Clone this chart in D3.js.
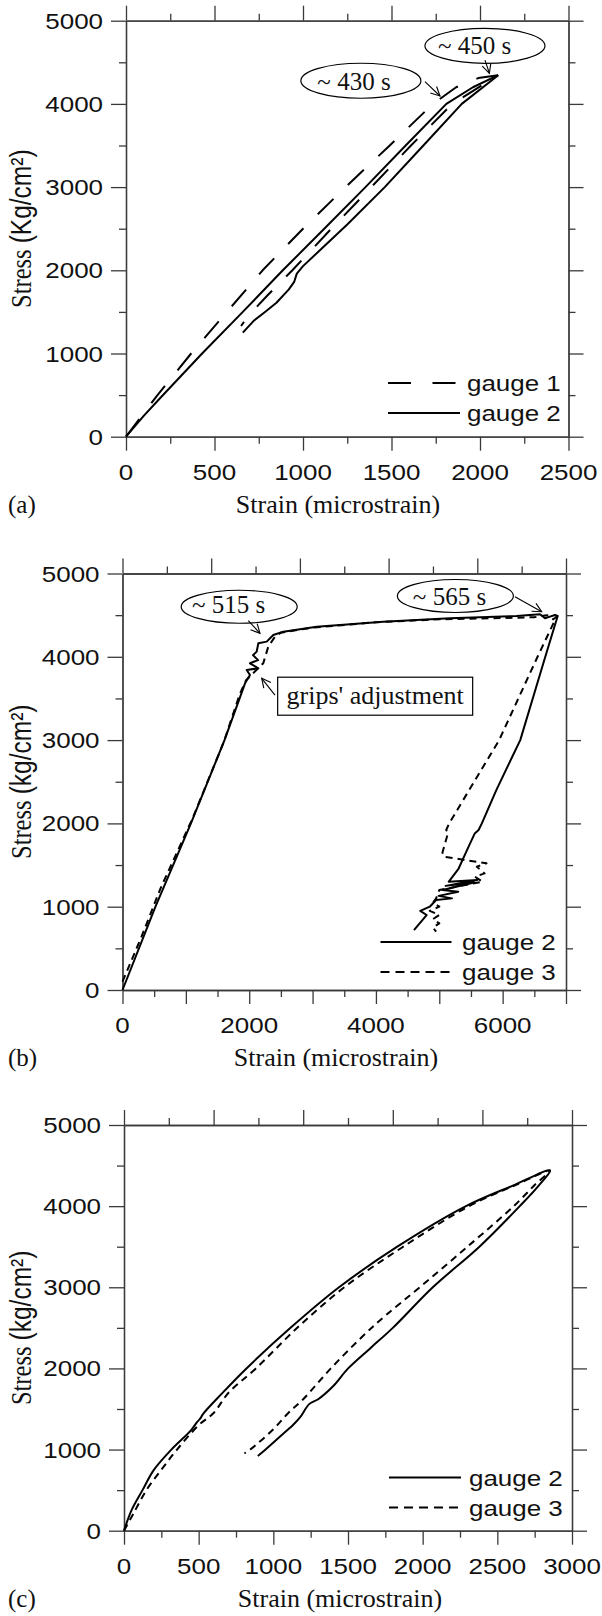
<!DOCTYPE html>
<html><head><meta charset="utf-8">
<script src="https://cdn.jsdelivr.net/npm/d3@7"></script>
<style>body{margin:0;background:#fff}svg{display:block}</style>
</head><body>
<svg id="chart" width="602" height="1616"></svg>
<script>
// ---------------- DATA ----------------
const stressTicks = [0,1000,2000,3000,4000,5000];
const stressMinor = [500,1500,2500,3500,4500];
const topTickIdx = [0,1,2,3,4,5,6,7,8,9,10];

const aXLabels = [0,500,1000,1500,2000,2500];
const aXMinor = [250,750,1250,1750,2250];
const bXLabels = [0,2000,4000,6000];
const bXMajor = [0,1000,2000,3000,4000,5000,6000,7000];
const bXMinor = [500,1500,2500,3500,4500,5500,6500];
const cXLabels = [0,500,1000,1500,2000,2500,3000];
const cXMinor = [250,750,1250,1750,2250,2750];

// panel (a) [strain, stress]
const aGauge1 = [[0,0],[60,170],[178,500],[368,1000],[570,1500],[772,2000],[1000,2500],[1240,3000],[1490,3500],[1734,4000],[1865,4200],[1990,4310],[2103,4345],
  [1843,4000],[1610,3500],[1386,3000],[1160,2500],[940,2000],[800,1700],[690,1450],[650,1330]];
const aGauge2Load = [[0,0],[100,250],[200,480],[430,1000],[660,1500],[886,2000],[1120,2500],[1353,3000],[1580,3500],[1810,4000],[1960,4200],[2103,4345]];
const aGauge2Unload = [[2103,4345],[1897,4000],[1680,3500],[1462,3000],[1250,2550],[1100,2250],[1000,2050],[965,1960],[950,1860],[920,1770],[850,1610],[780,1490],[720,1390],[660,1250]];

// panel (b)
const bGauge2 = [[0,0],[520,1000],[1080,2000],[1610,3000],[1934,3682],[2012,3782],[1960,3842],[2144,3862],[2012,3922],[2140,3960],[2060,4020],[2118,4062],[2144,4162],[2276,4182],[2380,4262],[2538,4302],[3065,4362],[4116,4422],[5169,4462],[6221,4490],[6590,4510],[6668,4462],[6747,4482],[6826,4502],[6869,4490],
  [6673,4000],[6278,3000],[5900,2400],[5672,2000],[5620,1920],[5560,1880],[5450,1700],[5300,1450],[5150,1300],[5600,1320],[5100,1250],[5550,1290],[5050,1200],[5300,1180],[4990,1130],[5200,1100],[4950,1080],[4850,1000],[4700,950],[4800,900],[4600,720]];
const bGauge3 = [[0,100],[300,640],[600,1220],[1100,2050],[1600,2980],[1850,3550],[1950,3720],[2222,3922],[2301,4122],[2407,4242],[2500,4290],[3000,4350],[4000,4415],[5000,4450],[6000,4465],[6500,4475],[6700,4500],[6800,4450],[6850,4480],
  [6551,4000],[5945,3000],[5156,2000],[5109,1921],[5140,1890],[5050,1650],[5070,1600],[5745,1521],[5593,1481],[5715,1400],[5563,1360],[5684,1300],[5000,1200],[4950,1100],[4900,1050],[5000,1000],[4850,950],[5000,900],[4900,850],[5000,800],[4900,750],[4950,700]];

// panel (c)
const cGauge2 = [[0,0],[50,250],[124,500],[200,750],[317,1000],[450,1240],[490,1340],[510,1380],[530,1440],[650,1680],[820,2000],[1115,2500],[1440,3000],[1830,3500],[2290,4000],[2600,4250],[2853,4440],
  [2780,4260],[2650,4000],[2380,3500],[2068,3000],[1800,2500],[1650,2250],[1501,2000],[1400,1780],[1300,1620],[1240,1560],[1180,1400],[1130,1300],[1100,1250],[948,1000],[896,920]];
const cGauge3 = [[0,0],[60,200],[150,500],[250,750],[355,1000],[500,1300],[600,1450],[700,1700],[883,2000],[1160,2500],[1475,3000],[1870,3500],[2310,4000],[2610,4250],[2853,4440],
  [2750,4260],[2610,4000],[2300,3500],[1980,3000],[1750,2650],[1600,2400],[1385,2000],[1200,1620],[1100,1450],[1000,1250],[845,1000],[806,953]];

// annotations [x, y] in data units
const aNotes = [
  {text:"~ 450 s", center:[2028,4698], textAt:[1970,4696], from:[2028,4527], to:[2053,4368]},
  {text:"~ 430 s", center:[1327,4278], textAt:[1288,4267], from:[1689,4267], to:[1774,4095]}
];
const bNotes = [
  {text:"~ 515 s", center:[1842,4601], textAt:[1676,4622], from:[1986,4433], to:[2170,4282]},
  {text:"~ 565 s", center:[5254,4730], textAt:[5161,4721], from:[6195,4721], to:[6616,4541]}
];
const bBox = {text:"grips' adjustment", center:[3988,3527], from:[2407,3541], to:[2197,3742]};

// ---------------- DRAW ----------------
const svg = d3.select('#chart');
const AX = '#3a3a3a';
const SX = 1.18;
const SANS = 'Liberation Sans, Arial, Helvetica, sans-serif';
const SERIF = 'Liberation Serif, Times New Roman, serif';

const defs = svg.append('defs');
defs.append('marker').attr('id','arr').attr('viewBox','-10 -6 12 12').attr('refX',0).attr('refY',0)
  .attr('markerWidth',12).attr('markerHeight',12).attr('markerUnits','userSpaceOnUse').attr('orient','auto')
  .append('path').attr('d','M-9,-4.5 L0,0 L-9,4.5').attr('fill','none').attr('stroke','#000').attr('stroke-width',1.1);

function stext(parent, x, y, str, size, anchor, family, sx){
  return parent.append('text')
    .attr('transform', `translate(${x},${y}) scale(${sx},1)`)
    .attr('text-anchor', anchor).attr('font-family', family).attr('font-size', size)
    .attr('fill','#111').text(str);
}

function styleAxis(sel){
  sel.selectAll('path.domain').attr('stroke', AX).attr('stroke-width',1.3);
  sel.selectAll('line').attr('stroke', AX).attr('stroke-width',1.3);
  sel.selectAll('text').remove();
}

function panel(cfg){
  const g = svg.append('g');
  const x = d3.scaleLinear().domain(cfg.xDomain).range([cfg.left, cfg.right]);
  const y = d3.scaleLinear().domain([0,5000]).range([cfg.bottom, cfg.top]);
  const xt = d3.scaleLinear().domain([0,10]).range([cfg.left, cfg.right]);

  g.append('g').attr('transform',`translate(${cfg.left},0)`).call(d3.axisLeft(y).tickValues(stressTicks).tickSize(15).tickSizeOuter(0)).call(styleAxis);
  g.append('g').attr('transform',`translate(${cfg.left},0)`).call(d3.axisLeft(y).tickValues(stressMinor).tickSize(7).tickSizeOuter(0)).call(styleAxis);
  g.append('g').attr('transform',`translate(${cfg.right},0)`).call(d3.axisRight(y).tickValues(stressTicks).tickSize(15).tickSizeOuter(0)).call(styleAxis);
  g.append('g').attr('transform',`translate(${cfg.right},0)`).call(d3.axisRight(y).tickValues(stressMinor).tickSize(7).tickSizeOuter(0)).call(styleAxis);
  g.append('g').attr('transform',`translate(0,${cfg.top})`).call(d3.axisTop(xt).tickValues(topTickIdx.filter(d=>d%2===0)).tickSize(15).tickSizeOuter(0)).call(styleAxis);
  g.append('g').attr('transform',`translate(0,${cfg.top})`).call(d3.axisTop(xt).tickValues(topTickIdx.filter(d=>d%2===1)).tickSize(7).tickSizeOuter(0)).call(styleAxis);
  g.append('g').attr('transform',`translate(0,${cfg.bottom})`).call(d3.axisBottom(x).tickValues(cfg.xMajor).tickSize(14).tickSizeOuter(0)).call(styleAxis);
  g.append('g').attr('transform',`translate(0,${cfg.bottom})`).call(d3.axisBottom(x).tickValues(cfg.xMinor).tickSize(7).tickSizeOuter(0)).call(styleAxis);

  stressTicks.forEach(v => stext(g, cfg.left-23, y(v)+8, String(v), 22, 'end', SANS, SX));
  cfg.xLabels.forEach(v => stext(g, x(v), cfg.bottom+43, String(v), 22, 'middle', SANS, SX));

  stext(g, cfg.xTitleX, cfg.bottom+76, 'Strain (microstrain)', 26, 'middle', SERIF, 1);
  stext(g, 8, cfg.bottom+76, cfg.tag, 25, 'start', SERIF, 1);
  const yl = g.append('text')
    .attr('transform', `translate(31,${(cfg.top+cfg.bottom)/2}) rotate(-90) scale(1,${SX})`)
    .attr('text-anchor','middle').attr('font-size',24.5).attr('fill','#111');
  yl.append('tspan').attr('font-family',SERIF).text('Stress ');
  yl.append('tspan').attr('font-family',SANS).text(cfg.unit);

  const line = d3.line().x(d=>x(d[0])).y(d=>y(d[1])).curve(cfg.curve || d3.curveLinear);
  cfg.series.forEach(s => {
    g.append('path').datum(s.data).attr('d', line).attr('fill','none').attr('stroke','#000')
      .attr('stroke-width',2).attr('stroke-linejoin','round').attr('stroke-dasharray', s.dash || null);
  });

  cfg.legend.forEach((l,i) => {
    const ly = cfg.legY + i*30;
    g.append('line').attr('x1',cfg.legX).attr('x2',cfg.legX+l.len).attr('y1',ly).attr('y2',ly)
      .attr('stroke','#000').attr('stroke-width',2).attr('stroke-dasharray', l.dash || null);
    stext(g, cfg.legTextX, ly+8, l.label, 22, 'start', SANS, SX);
  });

  (cfg.notes||[]).forEach(n => {
    g.append('ellipse').attr('cx',x(n.center[0])).attr('cy',y(n.center[1])).attr('rx',cfg.erx).attr('ry',cfg.ery)
      .attr('fill','#fff').attr('stroke','#000').attr('stroke-width',1.2);
    stext(g, x(n.textAt[0]), y(n.textAt[1])+8, n.text, 25, 'middle', SERIF, 1);
    g.append('line').attr('x1',x(n.from[0])).attr('y1',y(n.from[1])).attr('x2',x(n.to[0])).attr('y2',y(n.to[1]))
      .attr('stroke','#000').attr('stroke-width',1.1).attr('marker-end','url(#arr)');
  });
  if (cfg.box){
    const b = cfg.box, cx = x(b.center[0]), cy = y(b.center[1]);
    g.append('rect').attr('x',cx-97.5).attr('y',cy-19).attr('width',195).attr('height',38)
      .attr('fill','#fff').attr('stroke','#000').attr('stroke-width',1.2);
    stext(g, cx, cy+8, b.text, 26, 'middle', SERIF, 1);
    g.append('line').attr('x1',x(b.from[0])).attr('y1',y(b.from[1])).attr('x2',x(b.to[0])).attr('y2',y(b.to[1]))
      .attr('stroke','#000').attr('stroke-width',1.1).attr('marker-end','url(#arr)');
  }
}

panel({tag:'(a)', unit:'(Kg/cm²)', left:126, right:568.5, top:20.7, bottom:436.7, xDomain:[0,2500],
  xLabels:aXLabels, xMajor:aXLabels, xMinor:aXMinor, xTitleX:338,
  series:[{data:aGauge1, dash:'22,20'},{data:aGauge2Load},{data:aGauge2Unload}],
  legend:[{label:'gauge 1', dash:'23,21.5', len:68.5},{label:'gauge 2', len:72}], legX:388, legY:383, legTextX:467,
  notes:aNotes, erx:60, ery:17.5});

panel({tag:'(b)', unit:'(kg/cm²)', left:122.5, right:566, top:573.5, bottom:990, xDomain:[0,7000],
  xLabels:bXLabels, xMajor:bXMajor, xMinor:bXMinor, xTitleX:336,
  series:[{data:bGauge2},{data:bGauge3, dash:'7,5'}],
  legend:[{label:'gauge 2', len:71},{label:'gauge 3', dash:'9,6', len:69}], legX:380.5, legY:942, legTextX:462,
  notes:bNotes, box:bBox, erx:58, ery:16.5});

panel({tag:'(c)', unit:'(kg/cm²)', left:124, right:572, top:1125, bottom:1530.7, xDomain:[0,3000],
  xLabels:cXLabels, xMajor:cXLabels, xMinor:cXMinor, xTitleX:340, curve:d3.curveCatmullRom.alpha(0.5),
  series:[{data:cGauge2},{data:cGauge3, dash:'7,5'}],
  legend:[{label:'gauge 2', len:72},{label:'gauge 3', dash:'9,6', len:69}], legX:389, legY:1477.5, legTextX:469});
</script>
</body></html>
